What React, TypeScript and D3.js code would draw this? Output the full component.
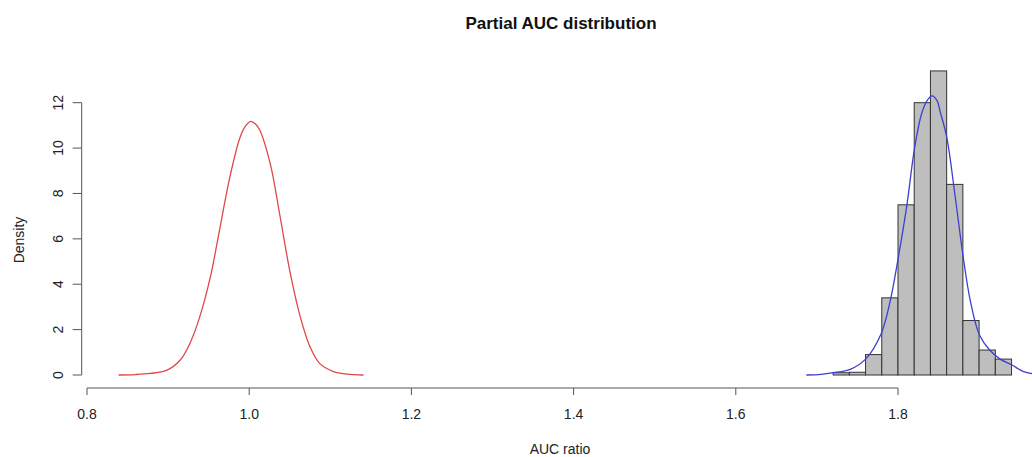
import React from "react";
import * as d3 from "d3";

const binStarts = [1.72, 1.74, 1.76, 1.78, 1.8, 1.82, 1.84, 1.86, 1.88, 1.9, 1.92];
const binWidth = 0.02;
const binDensity = [0.1, 0.12, 0.9, 3.4, 7.5, 12.0, 13.4, 8.4, 2.4, 1.1, 0.7];

const blueX = [1.687, 1.705, 1.72, 1.741, 1.76, 1.779, 1.79, 1.8, 1.811, 1.82, 1.829, 1.836, 1.842, 1.848, 1.852, 1.86, 1.87, 1.88, 1.889, 1.9, 1.913, 1.926, 1.94, 1.955, 1.966, 1.975];
const blueY = [0, 0.03, 0.1, 0.25, 0.7, 1.8, 3.2, 5.1, 7.5, 9.9, 11.5, 12.1, 12.3, 12.1, 11.6, 10.5, 8.0, 5.3, 3.3, 1.8, 1.1, 0.7, 0.45, 0.15, 0.05, 0.01];

const redX = [0.839, 0.86, 0.878, 0.898, 0.915, 0.927, 0.939, 0.952, 0.964, 0.976, 0.989, 0.996, 1.002, 1.008, 1.013, 1.026, 1.038, 1.05, 1.063, 1.075, 1.087, 1.104, 1.12, 1.141];
const redY = [0, 0.02, 0.07, 0.2, 0.66, 1.4, 2.56, 4.3, 6.5, 8.7, 10.5, 11.0, 11.18, 11.05, 10.8, 9.3, 7.0, 4.6, 2.56, 1.24, 0.5, 0.15, 0.04, 0];

const xTicks = [0.8, 1.0, 1.2, 1.4, 1.6, 1.8];
const yTicks = [0, 2, 4, 6, 8, 10, 12];

const titleText = "Partial AUC distribution";
const xLabel = "AUC ratio";
const yLabel = "Density";

export default function App() {
  const W = 1032;
  const H = 457;
  const x = d3.scaleLinear().domain([0.8, 1.8]).range([87, 898]);
  const y = d3.scaleLinear().domain([0, 12]).range([375, 102.7]);
  const axisY = 388;
  const axisX = 81.7;
  const font = "Liberation Sans, Arial, Helvetica, sans-serif";

  const line = d3
    .line<[number, number]>()
    .x((d) => x(d[0]))
    .y((d) => y(d[1]))
    .curve(d3.curveCatmullRom.alpha(0.5));

  const bluePts: [number, number][] = blueX.map((v, i) => [v, blueY[i]]);
  const redPts: [number, number][] = redX.map((v, i) => [v, redY[i]]);

  return (
    <svg
      width={W}
      height={H}
      style={{ position: "absolute", left: 0, top: 0, background: "#fff" }}
      fontFamily={font}
    >
      <rect x={0} y={0} width={W} height={H} fill="#fff" />
      <text x={561} y={29} textAnchor="middle" fontSize={17} fontWeight="bold" fill="#111">
        {titleText}
      </text>

      {/* histogram */}
      {binStarts.map((s, i) => (
        <rect
          key={i}
          x={x(s)}
          y={y(binDensity[i])}
          width={x(s + binWidth) - x(s)}
          height={y(0) - y(binDensity[i])}
          fill="#bebebe"
          stroke="#333"
          strokeWidth={1}
        />
      ))}

      <path d={line(redPts) || ""} fill="none" stroke="#e04848" strokeWidth={1.3} />
      <path d={line(bluePts) || ""} fill="none" stroke="#3f3fcf" strokeWidth={1.3} />

      {/* x axis */}
      <line x1={x(0.8)} x2={x(1.8)} y1={axisY} y2={axisY} stroke="#555" strokeWidth={1} />
      {xTicks.map((t) => (
        <g key={t}>
          <line x1={x(t)} x2={x(t)} y1={axisY} y2={axisY + 7} stroke="#555" strokeWidth={1} />
          <text x={x(t)} y={419} textAnchor="middle" fontSize={14} fill="#222">
            {t.toFixed(1)}
          </text>
        </g>
      ))}
      <text x={560} y={454} textAnchor="middle" fontSize={14} fill="#222">
        {xLabel}
      </text>

      {/* y axis */}
      <line x1={axisX} x2={axisX} y1={y(0)} y2={y(12)} stroke="#555" strokeWidth={1} />
      {yTicks.map((t) => (
        <g key={t}>
          <line x1={axisX - 9} x2={axisX} y1={y(t)} y2={y(t)} stroke="#555" strokeWidth={1} />
          <text
            transform={`translate(63,${y(t)}) rotate(-90)`}
            textAnchor="middle"
            fontSize={14}
            fill="#222"
          >
            {t}
          </text>
        </g>
      ))}
      <text transform={`translate(24,${240}) rotate(-90)`} textAnchor="middle" fontSize={14} fill="#222">
        {yLabel}
      </text>
    </svg>
  );
}
